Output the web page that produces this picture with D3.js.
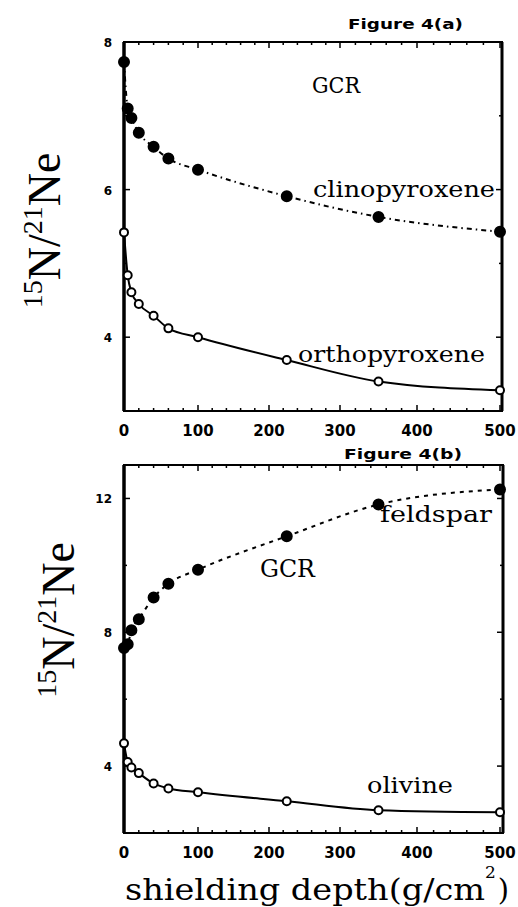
<!DOCTYPE html>
<html>
<head>
<meta charset="utf-8">
<script src="https://d3js.org/d3.v7.min.js"></script>
<style>
  body { margin: 0; background: #fff; }
  svg { display: block; }
</style>
</head>
<body>
<div id="chart"></div>
<script>
// shielding depths (g/cm2) and 15N/21Ne ratios
const depth = [0, 5, 10, 20, 40, 60, 100, 225, 350, 500];
const clinopyroxene = [7.73, 7.10, 6.97, 6.77, 6.58, 6.42, 6.27, 5.91, 5.63, 5.43];
const orthopyroxene = [5.42, 4.84, 4.61, 4.45, 4.29, 4.12, 4.00, 3.69, 3.40, 3.28];
const feldspar = [7.53, 7.64, 8.06, 8.39, 9.04, 9.45, 9.87, 10.87, 11.82, 12.27];
const olivine = [4.68, 4.12, 3.96, 3.79, 3.48, 3.33, 3.22, 2.95, 2.68, 2.62];
const xTicks = [0, 100, 200, 300, 400, 500];
const yTicksA = [4, 6, 8];
const yTicksB = [4, 8, 12];

const width = 518, height = 907;
const svg = d3.select("#chart").append("svg")
    .attr("width", width)
    .attr("height", height);

const serif = "'DejaVu Serif', 'Liberation Serif', serif";
const lserif = "'Liberation Serif', serif";
const sans = "'DejaVu Sans', 'Liberation Sans', sans-serif";

// the scanned axis is a bit uneven, so the x scale follows the printed ticks
let x = d3.scaleLinear()
    .domain(xTicks)
    .range([124, 198, 269, 340, 417, 500]);

function drawPanel(p) {
    let g = svg.append("g");
    let y = d3.scaleLinear().domain(p.yDomain).range([p.bottom, p.top]);

    // inward minor ticks
    let xMinor = d3.range(0, 501, 20);
    g.selectAll(".xt").data(xMinor).join("line")
        .attr("x1", d => x(d)).attr("x2", d => x(d))
        .attr("y1", p.bottom).attr("y2", d => p.bottom - (d % 100 == 0 ? 6 : 3))
        .attr("stroke", "#000").attr("stroke-width", 1.5);
    g.selectAll(".xtt").data(xMinor).join("line")
        .attr("x1", d => x(d)).attr("x2", d => x(d))
        .attr("y1", p.top).attr("y2", d => p.top + (d % 100 == 0 ? 6 : 3))
        .attr("stroke", "#000").attr("stroke-width", 1.5);

    let yMinor = d3.range(p.yDomain[0], p.yDomain[1] + 0.01, p.yStep);
    g.selectAll(".yl").data(yMinor).join("line")
        .attr("x1", 124).attr("x2", d => 124 + (p.yTicks.includes(d) ? 6 : 3))
        .attr("y1", d => y(d)).attr("y2", d => y(d))
        .attr("stroke", "#000").attr("stroke-width", 1.5);
    g.selectAll(".yr").data(yMinor).join("line")
        .attr("x1", p.right).attr("x2", d => p.right - (p.yTicks.includes(d) ? 6 : 3))
        .attr("y1", d => y(d)).attr("y2", d => y(d))
        .attr("stroke", "#000").attr("stroke-width", 1.5);

    // frame
    g.append("rect")
        .attr("x", 124).attr("y", p.top)
        .attr("width", p.right - 124).attr("height", p.bottom - p.top)
        .attr("fill", "none").attr("stroke", "#000").attr("stroke-width", 2);
    g.append("line")
        .attr("x1", 124).attr("x2", 124).attr("y1", p.top).attr("y2", p.bottom)
        .attr("stroke", "#000").attr("stroke-width", 3.5);
    g.append("line")
        .attr("x1", p.right).attr("x2", p.right).attr("y1", p.top).attr("y2", p.bottom)
        .attr("stroke", "#000").attr("stroke-width", 3);

    // tick labels
    g.selectAll(".xlab").data(xTicks).join("text")
        .attr("x", d => x(d)).attr("y", p.bottom + 25)
        .attr("text-anchor", "middle")
        .style("font", "bold 15px " + sans)
        .text(d => d);
    g.selectAll(".ylab").data(p.yTicks).join("text")
        .attr("x", 112).attr("y", d => y(d) + 5)
        .attr("text-anchor", "end")
        .style("font", "bold 12px " + sans)
        .text(d => d);

    // y axis title 15N/21Ne
    let yt = g.append("text")
        .attr("transform", `translate(${p.yLabelX},${(p.top + p.bottom) / 2 + p.yLabelShift}) rotate(-90)`)
        .attr("text-anchor", "middle")
        .style("font-family", lserif)
        .style("font-size", "46px");
    yt.append("tspan").attr("font-size", "28px").attr("dy", -18).text("15");
    yt.append("tspan").attr("dy", 18).text("N/");
    yt.append("tspan").attr("font-size", "28px").attr("dy", -18).text("21");
    yt.append("tspan").attr("dy", 18).text("Ne");

    let line = d3.line()
        .x((d, i) => x(depth[i]))
        .y(d => y(d))
        .curve(d3.curveMonotoneX);

    p.series.forEach(s => {
        g.append("path")
            .datum(s.values)
            .attr("d", line)
            .attr("fill", "none")
            .attr("stroke", "#000")
            .attr("stroke-width", 2)
            .attr("stroke-dasharray", s.dash);
        g.selectAll(null).data(s.values).join("circle")
            .attr("cx", (d, i) => x(depth[i]))
            .attr("cy", d => y(d))
            .attr("r", s.filled ? 5 : 4)
            .attr("fill", s.filled ? "#000" : "#fff")
            .attr("stroke", "#000")
            .attr("stroke-width", 2);
    });

    p.labels.forEach(l => {
        g.append("text")
            .attr("x", l.x).attr("y", l.y)
            .attr("textLength", l.len)
            .attr("lengthAdjust", "spacingAndGlyphs")
            .style("font", l.font)
            .text(l.text);
    });
}

drawPanel({
    top: 42, bottom: 411, right: 502,
    yDomain: [3, 8], yTicks: yTicksA, yStep: 1,
    yLabelX: 60, yLabelShift: 4,
    series: [
        {values: clinopyroxene, filled: true, dash: "5,4,1.5,4"},
        {values: orthopyroxene, filled: false, dash: null}
    ],
    labels: [
        {text: "Figure 4(a)", x: 348, y: 29, len: 115, font: "bold 14px " + sans},
        {text: "GCR", x: 312, y: 93, len: 48, font: "22px " + serif},
        {text: "clinopyroxene", x: 313, y: 197, len: 182, font: "22px " + serif},
        {text: "orthopyroxene", x: 298, y: 362, len: 187, font: "22px " + serif}
    ]
});

drawPanel({
    top: 465, bottom: 833, right: 503,
    yDomain: [2, 13], yTicks: yTicksB, yStep: 2,
    yLabelX: 74, yLabelShift: -29,
    series: [
        {values: feldspar, filled: true, dash: "4,5"},
        {values: olivine, filled: false, dash: null}
    ],
    labels: [
        {text: "Figure 4(b)", x: 344, y: 459, len: 118, font: "bold 14px " + sans},
        {text: "GCR", x: 260, y: 577, len: 55, font: "25px " + serif},
        {text: "feldspar", x: 380, y: 522, len: 112, font: "23px " + serif},
        {text: "olivine", x: 367, y: 793, len: 86, font: "23px " + serif}
    ]
});

// x axis title
let xt = svg.append("text")
    .attr("x", 125).attr("y", 900)
    .style("font-family", serif)
    .style("font-size", "29px");
xt.append("tspan").attr("textLength", 360).attr("lengthAdjust", "spacingAndGlyphs").text("shielding depth(g/cm");
xt.append("tspan").attr("font-size", "17px").attr("dy", -22).text("2");
xt.append("tspan").attr("dy", 22).attr("dx", 2).text(")");
</script>
</body>
</html>
